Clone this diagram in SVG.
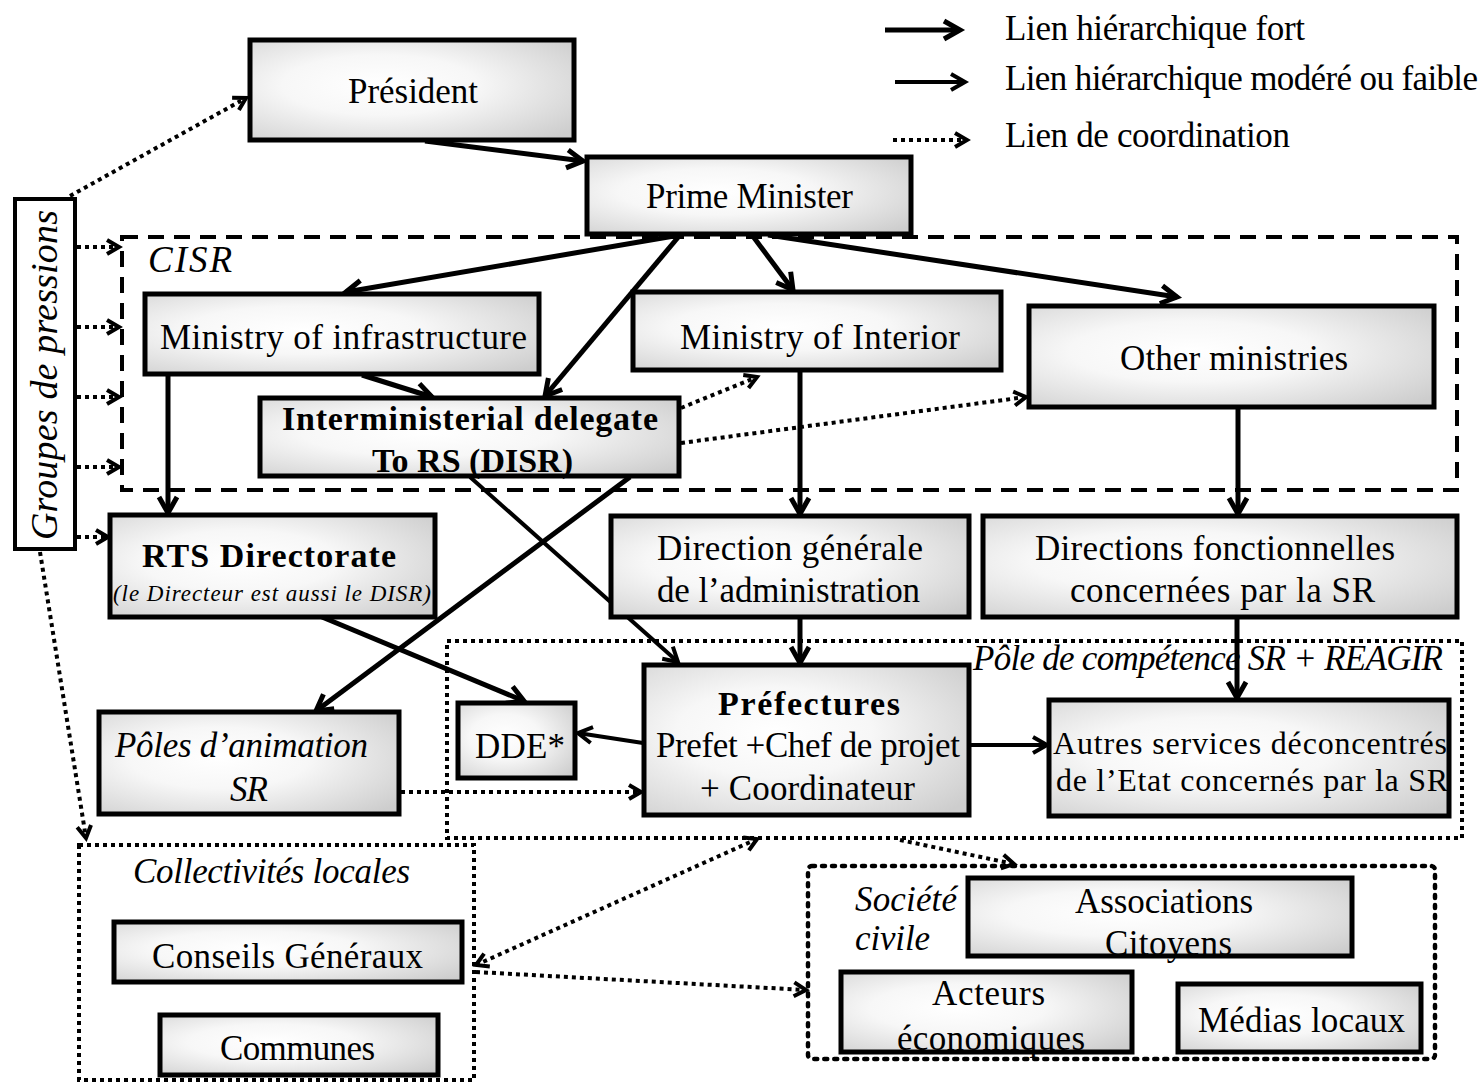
<svg xmlns="http://www.w3.org/2000/svg" width="1484" height="1083" viewBox="0 0 1484 1083">
<defs>
<radialGradient id="g" cx="40%" cy="45%" r="75%">
<stop offset="0" stop-color="#ffffff"/>
<stop offset="0.4" stop-color="#f7f7f7"/>
<stop offset="1" stop-color="#cdcdcd"/>
</radialGradient>
<marker id="as" markerUnits="userSpaceOnUse" markerWidth="24" markerHeight="24" viewBox="0 0 24 24" refX="20" refY="12" orient="auto" overflow="visible">
<path d="M4,3 L20,12 L4,21" fill="none" stroke="#000" stroke-width="5"/>
</marker>
<marker id="am" markerUnits="userSpaceOnUse" markerWidth="22" markerHeight="22" viewBox="0 0 22 22" refX="18" refY="11" orient="auto" overflow="visible">
<path d="M4,3 L18,11 L4,19" fill="none" stroke="#000" stroke-width="4"/>
</marker>
<marker id="ad" markerUnits="userSpaceOnUse" markerWidth="20" markerHeight="20" viewBox="0 0 20 20" refX="16" refY="10" orient="auto-start-reverse" overflow="visible">
<path d="M4,3 L16,10 L4,17" fill="none" stroke="#000" stroke-width="4"/>
</marker>
</defs>
<style>
.box{fill:url(#g);stroke:#000;stroke-width:5}
.t{font-family:"Liberation Serif","Times New Roman",serif;font-size:35px;fill:#000}
.b{font-weight:bold;font-size:34px}
.i{font-style:italic}
.strong{stroke:#000;stroke-width:5;fill:none;marker-end:url(#as)}
.mod{stroke:#000;stroke-width:4;fill:none;marker-end:url(#am)}
.dot{stroke:#000;stroke-width:4;fill:none;stroke-dasharray:4 4;marker-end:url(#ad)}
</style>
<rect width="1484" height="1083" fill="#fff"/>

<!-- containers -->
<g id="cisr">
<rect x="122" y="237" width="1335" height="253" fill="none" stroke="#000" stroke-width="4" stroke-dasharray="16 10"/>
<text class="t i" style="font-size:37px" x="148" y="272" textLength="84">CISR</text>
</g>
<g id="pole-competence">
<rect x="447" y="641" width="1015" height="197" fill="none" stroke="#000" stroke-width="4" stroke-dasharray="4 4"/>
<text class="t i" x="973" y="670" textLength="470">Pôle de compétence SR + REAGIR</text>
</g>
<g id="collectivites">
<rect x="79" y="845" width="395" height="235" fill="none" stroke="#000" stroke-width="4" stroke-dasharray="4 4"/>
<text class="t i" x="133" y="883" textLength="277">Collectivités locales</text>
</g>
<g id="societe-civile">
<rect x="808" y="866" width="627" height="193" rx="4" fill="none" stroke="#000" stroke-width="4.5" stroke-dasharray="3 7" stroke-linecap="round"/>
<text class="t i" x="855" y="911" textLength="102">Société</text>
<text class="t i" x="855" y="950" textLength="75">civile</text>
</g>

<!-- connectors -->
<g id="connectors">
<path class="strong" d="M425,141 L583,161"/>
<path class="strong" d="M680,235 L346,292"/>
<path class="strong" d="M680,235 L545,396"/>
<path class="strong" d="M752,235 L793,290"/>
<path class="strong" d="M768,235 L1177,297"/>
<path class="strong" d="M362,375 L432,397"/>
<path class="strong" d="M168,374 L168,513"/>
<path class="strong" d="M800,370 L800,514"/>
<path class="strong" d="M1238,407 L1238,514"/>
<path class="strong" d="M630,477 L316,711"/>
<path class="strong" d="M322,617 L524,701"/>
<path class="strong" d="M800,617 L800,663"/>
<path class="strong" d="M1237,617 L1237,698"/>
<path class="mod" d="M470,477 L678,662"/>
<path class="mod" d="M643,743 L578,733"/>
<path class="mod" d="M970,745 L1047,745"/>
<path class="dot" d="M70,196 L246,98"/>
<path class="dot" d="M77,247 L119,247"/>
<path class="dot" d="M77,327 L119,327"/>
<path class="dot" d="M77,397 L119,397"/>
<path class="dot" d="M77,467 L119,467"/>
<path class="dot" d="M77,537 L108,537"/>
<path class="dot" d="M40,552 L86,838"/>
<path class="dot" d="M681,408 L757,377"/>
<path class="dot" d="M681,443 L1026,397"/>
<path class="dot" d="M401,792 L641,792"/>
<path class="dot" d="M476,965 L757,839" style="marker-start:url(#ad)"/>
<path class="dot" d="M476,972 L806,990"/>
<path class="dot" d="M900,840 L1014,864"/>
</g>

<!-- nodes -->
<g id="president"><rect class="box" x="250" y="40" width="324" height="100"/><text class="t" x="348" y="103" textLength="130">Président</text></g>
<g id="prime-minister"><rect class="box" x="587" y="157" width="324" height="77"/><text class="t" x="646" y="208" textLength="207">Prime Minister</text></g>
<g id="groupes"><rect x="15" y="199" width="60" height="350" fill="#fff" stroke="#000" stroke-width="4"/><text class="t i" style="font-size:38px" transform="translate(57,540) rotate(-90)" x="0" y="0" textLength="330">Groupes de pressions</text></g>
<g id="ministry-infrastructure"><rect class="box" x="145" y="294" width="394" height="80"/><text class="t" x="160" y="349" textLength="367">Ministry of infrastructure</text></g>
<g id="ministry-interior"><rect class="box" x="633" y="292" width="368" height="78"/><text class="t" x="680" y="349" textLength="280">Ministry of Interior</text></g>
<g id="other-ministries"><rect class="box" x="1029" y="306" width="405" height="101"/><text class="t" x="1120" y="370" textLength="228">Other ministries</text></g>
<g id="disr"><rect class="box" x="260" y="398" width="419" height="78"/><text class="t b" x="282" y="430" textLength="376">Interministerial delegate</text><text class="t b" x="372" y="472" textLength="201">To RS (DISR)</text></g>
<g id="rts"><rect class="box" x="110" y="515" width="325" height="102"/><text class="t b" x="142" y="567" textLength="254">RTS Directorate</text><text class="t i" style="font-size:23px" x="113" y="601" textLength="318">(le Directeur est aussi le DISR)</text></g>
<g id="dga"><rect class="box" x="611" y="516" width="358" height="101"/><text class="t" x="657" y="560" textLength="266">Direction générale</text><text class="t" x="657" y="602" textLength="263">de l’administration</text></g>
<g id="directions-fonctionnelles"><rect class="box" x="983" y="516" width="474" height="101"/><text class="t" x="1035" y="560" textLength="360">Directions fonctionnelles</text><text class="t" x="1070" y="602" textLength="305">concernées par la SR</text></g>
<g id="poles-animation"><rect class="box" x="99" y="712" width="300" height="102"/><text class="t i" x="115" y="757" textLength="253">Pôles d’animation</text><text class="t i" x="230" y="801" textLength="38">SR</text></g>
<g id="dde"><rect class="box" x="458" y="703" width="117" height="75"/><text class="t" x="475" y="758" textLength="90">DDE*</text></g>
<g id="prefectures"><rect class="box" x="644" y="665" width="325" height="150"/><text class="t b" x="718" y="715" textLength="182">Préfectures</text><text class="t" x="656" y="757" textLength="304">Prefet +Chef de projet</text><text class="t" x="700" y="800" textLength="215">+ Coordinateur</text></g>
<g id="autres-services"><rect class="box" x="1049" y="700" width="400" height="116"/><text class="t" style="font-size:32px" x="1053" y="754" textLength="394">Autres services déconcentrés</text><text class="t" style="font-size:32px" x="1056" y="791" textLength="392">de l’Etat concernés par la SR</text></g>
<g id="conseils"><rect class="box" x="114" y="922" width="348" height="60"/><text class="t" x="152" y="968" textLength="271">Conseils Généraux</text></g>
<g id="communes"><rect class="box" x="160" y="1015" width="278" height="60"/><text class="t" x="220" y="1060" textLength="155">Communes</text></g>
<g id="associations"><rect class="box" x="968" y="878" width="384" height="78"/><text class="t" x="1075" y="913" textLength="178">Associations</text><text class="t" x="1105" y="955" textLength="127">Citoyens</text></g>
<g id="acteurs"><rect class="box" x="841" y="972" width="291" height="80"/><text class="t" x="932" y="1005" textLength="113">Acteurs</text><text class="t" x="897" y="1050" textLength="188">économiques</text></g>
<g id="medias"><rect class="box" x="1178" y="984" width="243" height="68"/><text class="t" x="1198" y="1032" textLength="207">Médias locaux</text></g>

<!-- legend -->
<g id="legend">
<path class="strong" d="M885,30 L960,30"/>
<path class="mod" d="M895,82 L965,82"/>
<path class="dot" d="M893,140 L967,140"/>
<text class="t" x="1005" y="40" textLength="300">Lien hiérarchique fort</text>
<text class="t" x="1005" y="90" textLength="473">Lien hiérarchique modéré ou faible</text>
<text class="t" x="1005" y="147" textLength="285">Lien de coordination</text>
</g>
</svg>
